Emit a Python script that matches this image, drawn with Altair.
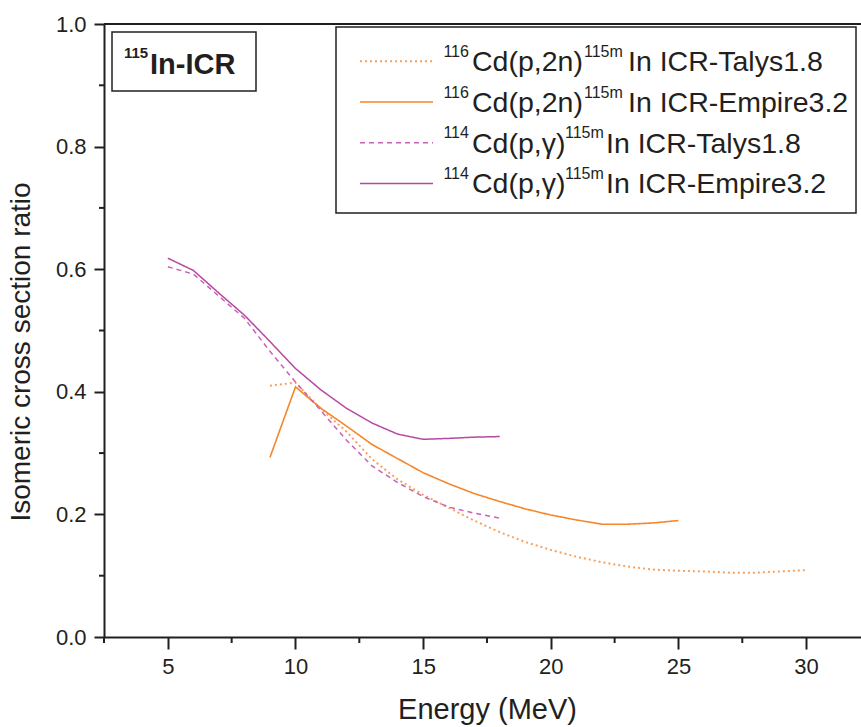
import altair as alt
import pandas as pd

# ---------------- data ----------------
energy_mag = [5, 6, 7, 8, 9, 10, 11, 12, 13, 14, 15, 16, 17, 18]
mag_talys = [0.604, 0.592, 0.556, 0.52, 0.466, 0.416, 0.369, 0.321, 0.279,
             0.252, 0.229, 0.212, 0.202, 0.194]
mag_empire = [0.618, 0.598, 0.561, 0.525, 0.482, 0.438, 0.403, 0.373, 0.349,
              0.331, 0.3225, 0.324, 0.326, 0.327]

energy_or_emp = [9, 10, 11, 12, 13, 14, 15, 16, 17, 18, 19, 20, 21, 22, 23, 24, 25]
or_empire = [0.293, 0.408, 0.373, 0.344, 0.314, 0.291, 0.268, 0.25, 0.234,
             0.221, 0.209, 0.199, 0.191, 0.184, 0.184, 0.186, 0.19]

energy_or_tal = [9, 10, 11, 12, 13, 14, 15, 16, 17, 18, 19, 20, 21, 22, 23,
                 24, 25, 26, 27, 28, 29, 30]
or_talys = [0.41, 0.415, 0.372, 0.335, 0.29, 0.257, 0.232, 0.211, 0.19, 0.171,
            0.155, 0.142, 0.131, 0.122, 0.115, 0.11, 0.108, 0.107, 0.105,
            0.105, 0.107, 0.109]

x_major = [5, 10, 15, 20, 25, 30]
x_minor = [2.5, 7.5, 12.5, 17.5, 22.5, 27.5]
y_major = [0.0, 0.2, 0.4, 0.6, 0.8, 1.0]
y_minor = [0.1, 0.3, 0.5, 0.7, 0.9]

legend_sup1 = ["116", "116", "114", "114"]
legend_main = ["Cd(p,2n)", "Cd(p,2n)", "Cd(p,\u03b3)", "Cd(p,\u03b3)"]
legend_sup2 = ["115m", "115m", "115m", "115m"]
legend_rest = ["In ICR-Talys1.8", "In ICR-Empire3.2", "In ICR-Talys1.8", "In ICR-Empire3.2"]

x_title = "Energy (MeV)"
y_title = "Isomeric cross section ratio"

# ---------------- styling ----------------
W, H = 757, 613
FONT = "Liberation Sans"
INK = "#231F20"
ORANGE = "#F7862A"
ORANGE_LT = "#F9A05A"
MAGENTA = "#B8479F"
MAGENTA_LT = "#C862B8"

styles = [
    dict(color=ORANGE_LT, dash=[2, 3], width=2.0),   # 116Cd Talys
    dict(color=ORANGE, dash=[1, 0], width=1.6),      # 116Cd Empire
    dict(color=MAGENTA_LT, dash=[5, 4], width=1.5),  # 114Cd Talys
    dict(color=MAGENTA, dash=[1, 0], width=1.5),     # 114Cd Empire
]

xs = alt.Scale(domain=[2.5, 32.15], nice=False, zero=False)
ys = alt.Scale(domain=[0, 1], nice=False, zero=False)

xaxis = alt.Axis(values=x_major, format="d", title=None, grid=False,
                 labelFont=FONT, labelFontSize=22, labelColor=INK,
                 tickSize=12, tickWidth=2, tickColor=INK,
                 domainWidth=2, domainColor=INK, labelPadding=7,
                 labelFlush=False)
yaxis = alt.Axis(values=y_major, format=".1f", title=None, grid=False,
                 labelFont=FONT, labelFontSize=22, labelColor=INK,
                 tickSize=10, tickWidth=2, tickColor=INK,
                 domainWidth=2, domainColor=INK, labelPadding=8,
                 labelFlush=False)


def line_layer(xv, yv, st):
    df = pd.DataFrame({"energy": xv, "ratio": yv})
    return alt.Chart(df).mark_line(
        color=st["color"], strokeDash=st["dash"], strokeWidth=st["width"],
        interpolate="linear"
    ).encode(
        x=alt.X("energy:Q", scale=xs, axis=xaxis),
        y=alt.Y("ratio:Q", scale=ys, axis=yaxis),
    )


def text_at(txt, x, y, size, bold=False, align="left", baseline="alphabetic", angle=0):
    kw = dict(font=FONT, fontSize=size, color=INK, align=align, baseline=baseline)
    if bold:
        kw["fontWeight"] = "bold"
    if angle:
        kw["angle"] = angle
    return alt.Chart(pd.DataFrame({"t": [txt]})).mark_text(**kw).encode(
        text="t:N", x=alt.value(x), y=alt.value(y))


layers = []

# minor ticks
layers.append(
    alt.Chart(pd.DataFrame({"energy": x_minor})).mark_rule(color=INK, strokeWidth=2).encode(
        x=alt.X("energy:Q", scale=xs, axis=xaxis), y=alt.value(H), y2=alt.value(H + 6))
)
layers.append(
    alt.Chart(pd.DataFrame({"ratio": y_minor})).mark_rule(color=INK, strokeWidth=2).encode(
        y=alt.Y("ratio:Q", scale=ys, axis=yaxis), x=alt.value(-5), x2=alt.value(0))
)

# top frame line
layers.append(
    alt.Chart(pd.DataFrame({"a": [0]})).mark_rule(color=INK, strokeWidth=2).encode(
        x=alt.value(0), x2=alt.value(W), y=alt.value(0))
)

# data lines
layers.append(line_layer(energy_or_tal, or_talys, styles[0]))
layers.append(line_layer(energy_or_emp, or_empire, styles[1]))
layers.append(line_layer(energy_mag, mag_talys, styles[2]))
layers.append(line_layer(energy_mag, mag_empire, styles[3]))

# label box
layers.append(
    alt.Chart(pd.DataFrame({"a": [0]})).mark_rect(fill="white", stroke=INK, strokeWidth=1.5).encode(
        x=alt.value(8), x2=alt.value(152), y=alt.value(8), y2=alt.value(67))
)
layers.append(text_at("115", 20, 34, 15, bold=True))
layers.append(text_at("In-ICR", 46, 49.5, 29, bold=True))

# legend box
layers.append(
    alt.Chart(pd.DataFrame({"a": [0]})).mark_rect(fill="white", stroke=INK, strokeWidth=1.5).encode(
        x=alt.value(232), x2=alt.value(752), y=alt.value(3), y2=alt.value(189))
)
row_base = [47.3, 88.0, 128.7, 169.4]
sup2_x = [480, 480, 461, 461]
rest_x = [524, 524, 502, 502]
for i in range(4):
    b = row_base[i]
    st = styles[i]
    layers.append(
        alt.Chart(pd.DataFrame({"a": [0]})).mark_rule(
            color=st["color"], strokeDash=st["dash"], strokeWidth=st["width"]).encode(
            x=alt.value(256), x2=alt.value(329), y=alt.value(b - 10))
    )
    layers.append(text_at(legend_sup1[i], 339.4, b - 14.5, 16))
    layers.append(text_at(legend_main[i], 368, b, 28.5))
    layers.append(text_at(legend_sup2[i], sup2_x[i], b - 14.5, 16))
    layers.append(text_at(legend_rest[i], rest_x[i], b, 28.5))

# axis titles
layers.append(text_at(x_title, 383.5, 686, 29, align="center", baseline="middle"))
layers.append(text_at(y_title, -82, 328, 28, align="center", baseline="middle", angle=270))

chart = alt.layer(*layers).properties(
    width=W, height=H,
    autosize=alt.AutoSizeParams(type="none"),
    padding={"left": 104, "top": 24, "right": 0, "bottom": 90},
    background="white",
).configure_view(stroke=None)

chart.save("out.html", embed_options={"renderer": "svg", "actions": False})
